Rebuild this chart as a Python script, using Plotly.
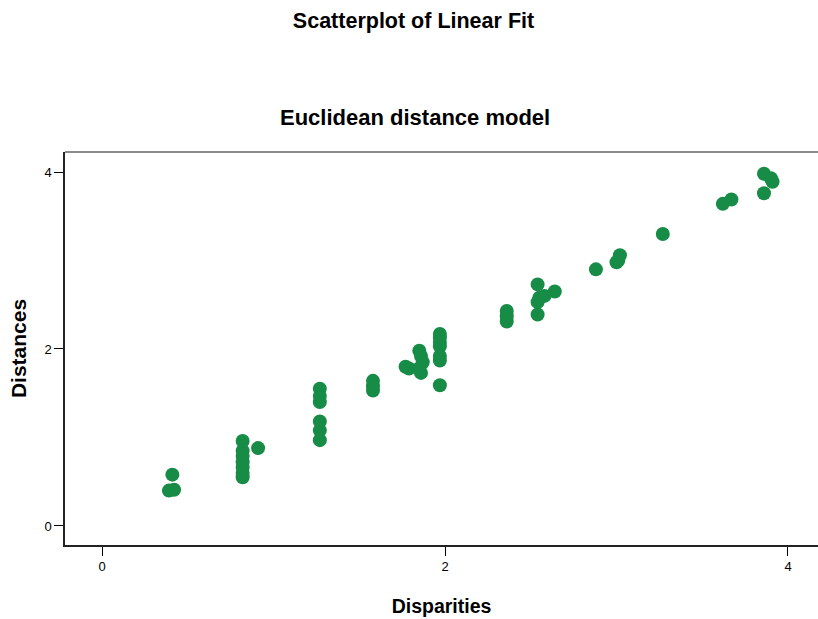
import plotly.graph_objects as go

# Disparities (x) and model distances (y) for the Euclidean distance model
disparities = [
    0.39, 0.42, 0.41,
    0.82, 0.82, 0.82, 0.82, 0.82, 0.82, 0.82, 0.91,
    1.27, 1.27, 1.27, 1.27, 1.27, 1.27,
    1.58, 1.58, 1.58,
    1.77, 1.79,
    1.85, 1.86, 1.87, 1.85, 1.86,
    1.97, 1.97, 1.97, 1.97, 1.97, 1.97, 1.97,
    2.36, 2.36, 2.36,
    2.54, 2.55, 2.58, 2.54, 2.64, 2.54,
    2.88,
    3.00, 3.02, 3.01,
    3.27,
    3.62, 3.67,
    3.86, 3.90, 3.91, 3.86,
]
distances = [
    0.40, 0.41, 0.58,
    0.55, 0.60, 0.66, 0.72, 0.79, 0.85, 0.96, 0.88,
    1.55, 1.47, 1.40, 1.18, 1.08, 0.97,
    1.64, 1.58, 1.53,
    1.80, 1.78,
    1.98, 1.92, 1.85, 1.78, 1.73,
    2.17, 2.13, 2.08, 2.03, 1.92, 1.87, 1.59,
    2.43, 2.37, 2.31,
    2.73, 2.58, 2.60, 2.53, 2.65, 2.39,
    2.90,
    2.98, 3.06, 3.00,
    3.30,
    3.64, 3.69,
    3.98, 3.93, 3.89, 3.76,
]
tick_vals = [0, 2, 4]
tick_text = ["0", "2", "4"]

FONT = "Liberation Sans, Arial, sans-serif"
GREEN = "#178c46"

fig = go.Figure()
fig.add_trace(go.Scatter(
    x=disparities,
    y=distances,
    mode="markers",
    marker=dict(size=14, color=GREEN, line=dict(width=0)),
    showlegend=False,
    hoverinfo="x+y",
))

axis_common = dict(
    tickvals=tick_vals,
    ticktext=tick_text,
    ticks="outside",
    ticklen=9,
    tickwidth=1,
    tickcolor="black",
    showgrid=False,
    zeroline=False,
    showline=True,
    linecolor="#222222",
    linewidth=1.5,
    mirror=False,
    tickfont=dict(size=13, family=FONT, color="black"),
)

fig.update_layout(
    width=818,
    height=619,
    paper_bgcolor="white",
    plot_bgcolor="white",
    margin=dict(l=65, r=0, t=152, b=74),
    font=dict(family=FONT, color="black"),
    title=dict(
        text="<b>Scatterplot of Linear Fit</b>",
        x=413.5 / 818, xanchor="center",
        y=1 - 20 / 619, yref="container", yanchor="middle",
        font=dict(size=21.5, family=FONT, color="black"),
    ),
    annotations=[
        dict(
            text="<b>Euclidean distance model</b>",
            xref="paper", yref="paper",
            x=(414.5 - 65) / 753, y=1 + (152 - 117) / 393,
            xanchor="center", yanchor="middle",
            showarrow=False,
            font=dict(size=22, family=FONT, color="black"),
        )
    ],
    shapes=[
        # top frame edge of the plot area
        dict(type="line", xref="paper", yref="paper",
             x0=0, x1=1, y0=1, y1=1,
             line=dict(color="#8a8a8a", width=2)),
    ],
    xaxis=dict(
        range=[-0.216, 4.175],
        title=dict(text="<b>Disparities</b>", font=dict(size=19.5, family=FONT), standoff=26),
        **axis_common,
    ),
    yaxis=dict(
        range=[-0.215, 4.226],
        title=dict(text="<b>Distances</b>", font=dict(size=21, family=FONT), standoff=12),
        **axis_common,
    ),
)

fig.write_html("out.html")
